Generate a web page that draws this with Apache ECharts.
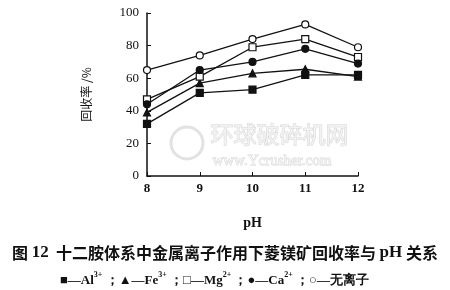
<!DOCTYPE html>
<html><head><meta charset="utf-8">
<script src="https://cdn.jsdelivr.net/npm/echarts@6/dist/echarts.min.js"></script>
<style>html,body{margin:0;padding:0;background:#fff}#c{width:450px;height:290px}</style>
</head><body><div id="c"></div>
<script>
const pH = [8, 9, 10, 11, 12];
const al = [32, 51, 53, 62, 62];
const fe = [39, 57, 63, 65.5, 61];
const mg = [47, 61, 79, 84, 73];
const ca = [44, 65, 70, 78, 69];
const noIon = [65, 74, 84, 93, 79];
const yTicks = [0, 20, 40, 60, 80, 100];

const serif = '"Liberation Serif","DejaVu Serif",serif';
const cjk = '"Noto Sans CJK SC",sans-serif';
const pairs = v => pH.map((x, i) => [x, v[i]]);
function s(name, data, symbol, fill) {
  return {
    name, type: 'line', data: pairs(data), symbol, symbolSize: 7,
    lineStyle: { color: '#111', width: 1.3 },
    itemStyle: { color: fill, borderColor: '#111', borderWidth: 1.2 },
    z: 3
  };
}
const chart = echarts.init(document.getElementById('c'));
chart.setOption({
  animation: false,
  backgroundColor: '#fff',
  grid: { left: 147, right: 92, top: 13, bottom: 114 },
  xAxis: {
    type: 'value', min: 8, max: 12, interval: 1,
    name: 'pH', nameLocation: 'middle', nameGap: 40,
    nameTextStyle: { fontFamily: serif, fontSize: 14, color: '#111', fontWeight: 'bold' },
    axisLine: { lineStyle: { color: '#111', width: 1.5 } },
    axisTick: { inside: true, length: 4, lineStyle: { color: '#111' } },
    axisLabel: { fontFamily: serif, fontSize: 13, color: '#111', fontWeight: 'bold', margin: 6 },
    splitLine: { show: false }
  },
  yAxis: {
    type: 'value', min: 0, max: 100, interval: 20,
    name: '回收率 /%', nameLocation: 'middle', nameGap: 55, nameRotate: 90,
    nameTextStyle: { fontFamily: cjk, fontSize: 12, color: '#111' },
    axisLine: { show: true, lineStyle: { color: '#111', width: 1.5 } },
    axisTick: { show: true, inside: true, length: 4, lineStyle: { color: '#111' } },
    axisLabel: { fontFamily: serif, fontSize: 13, color: '#111', margin: 8,
      formatter: v => yTicks.includes(v) ? String(v) : '' },
    splitLine: { show: false }
  },
  title: [{
    text: '{b|图 }{n|12}{b|  十二胺体系中金属离子作用下菱镁矿回收率与 }{n|pH}{b| 关系}',
    left: 'center', top: 239,
    textStyle: { rich: {
      b: { fontFamily: cjk, fontSize: 16, fontWeight: 'bold', color: '#111' },
      n: { fontFamily: serif, fontSize: 17, fontWeight: 'bold', color: '#111' }
    } }
  }, {
    text: '{t|■—Al}{sup|3+}{t| ；▲—Fe}{sup|3+}{t| ；□—Mg}{sup|2+}{t| ；●—Ca}{sup|2+}{t| ；○—无离子}',
    left: 55, top: 266,
    textStyle: { rich: {
      t: { fontFamily: serif, fontSize: 13, color: '#111', verticalAlign: 'bottom', lineHeight: 16 },
      sup: { fontFamily: serif, fontSize: 8, color: '#111', verticalAlign: 'top', lineHeight: 16, padding: [0, 0, 8, 0] }
    } }
  }],
  graphic: [
    { type: 'circle', shape: { cx: 187, cy: 143, r: 16 }, style: { fill: 'none', stroke: '#e2e2e2', lineWidth: 3 }, z: 0 },
    { type: 'text', left: 210, top: 122, style: { text: '环球破碎机网', fontFamily: cjk, fontSize: 23, fill: '#f2f2f2', stroke: '#d4d4d4', lineWidth: 1 }, z: 0 },
    { type: 'text', left: 212, top: 153, style: { text: 'www.Ycrusher.com', fontFamily: serif, fontSize: 15, fill: '#f2f2f2', stroke: '#d4d4d4', lineWidth: 0.8 }, z: 0 }
  ],
  series: [
    s('Al', al, 'rect', '#111'),
    s('Fe', fe, 'triangle', '#111'),
    s('Mg', mg, 'rect', '#fff'),
    s('Ca', ca, 'circle', '#111'),
    s('无离子', noIon, 'circle', '#fff')
  ]
});
</script></body></html>
